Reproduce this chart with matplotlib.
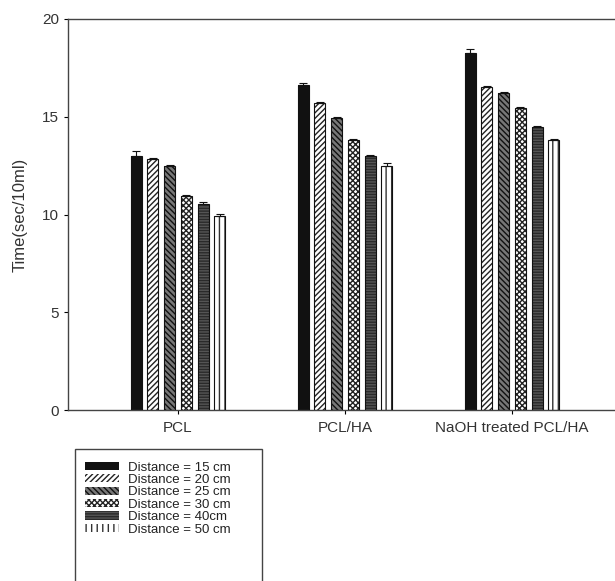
import matplotlib
matplotlib.use("Agg")
import matplotlib.pyplot as plt
import numpy as np
from matplotlib.patches import Rectangle, Patch

plt.rcParams['font.family'] = ['Liberation Sans', 'DejaVu Sans']

categories = ["PCL", "PCL/HA", "NaOH treated PCL/HA"]
series_labels = ["Distance = 15 cm", "Distance = 20 cm", "Distance = 25 cm",
                 "Distance = 30 cm", "Distance = 40cm", "Distance = 50 cm"]
values = [
    [13.0, 16.6, 18.25],   # 15 cm
    [12.85, 15.7, 16.5],   # 20 cm
    [12.5, 14.95, 16.2],   # 25 cm
    [10.95, 13.8, 15.45],  # 30 cm
    [10.55, 13.0, 14.5],   # 40 cm
    [9.9, 12.5, 13.8],     # 50 cm
]
errors = [
    [0.25, 0.15, 0.2],
    [0.05, 0.05, 0.05],
    [0.05, 0.05, 0.05],
    [0.05, 0.05, 0.05],
    [0.08, 0.05, 0.05],
    [0.15, 0.14, 0.08],
]
yticks = [0, 5, 10, 15, 20]

faces = ['#111111', 'white', '#777777', 'white', '#2a2a2a', 'white']
hatch_cols = ['#111111', '#222222', '#111111', '#222222', '#555555', '#333333']
hatches = [None, '//////', '\\\\\\\\\\\\', 'xxxxxx', '------', '|||']

fig = plt.figure(figsize=(6.15, 5.81), dpi=100)
ax = fig.add_axes([68/615, 1-410/581, 1-68/615, (410-19)/581])

x = np.arange(len(categories))
pitch = 0.1
width = 0.066
for i in range(6):
    xs = x + (i - 2.5) * pitch
    ax.bar(xs, values[i], width=width, color=faces[i], edgecolor=hatch_cols[i],
           hatch=hatches[i], linewidth=0, zorder=2)
    ax.bar(xs, values[i], width=width, fill=False, edgecolor='#111111',
           linewidth=0.8, zorder=3)
    ax.errorbar(xs, values[i], yerr=[np.zeros(3), errors[i]], fmt='none',
                ecolor='#111111', elinewidth=0.8, capsize=3, capthick=0.8, zorder=4)

ax.set_xlim(-0.659, 2.617)
ax.set_ylim(0, 20)
ax.set_yticks(yticks)
ax.set_xticks(x)
ax.set_xticklabels(categories, fontsize=11, color='#333333')
ax.tick_params(axis='y', direction='out', length=3, labelsize=11, labelcolor='#333333', pad=3.6)
ax.tick_params(axis='x', direction='out', length=3, pad=5)
ax.set_ylabel("Time(sec/10ml)", fontsize=12, color='#333333', labelpad=10)
ax.spines['right'].set_visible(False)
for s in ['left', 'top', 'bottom']:
    ax.spines[s].set_color('#444444')
    ax.spines[s].set_linewidth(1.0)

# legend
handles = [Patch(facecolor=faces[i], edgecolor=hatch_cols[i], hatch=hatches[i], linewidth=0)
           for i in range(6)]
leg = fig.legend(handles, series_labels, loc='upper left',
                 bbox_to_anchor=(78/615, 1-455/581), frameon=False,
                 fontsize=9.5, handlelength=2.6, handleheight=0.58,
                 labelspacing=0.03, handletextpad=0.7, borderpad=0)
for t in leg.get_texts():
    t.set_color('#222222')
fig.patches.append(Rectangle((75/615, -0.05), (262-75)/615, (0.05 + 1-449/581),
                             transform=fig.transFigure, fill=False,
                             edgecolor='#444444', linewidth=1.0))

fig.savefig("out.png", dpi=100)
